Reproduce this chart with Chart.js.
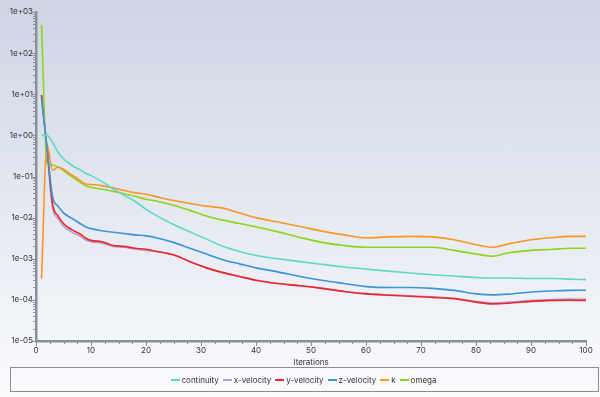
<!DOCTYPE html>
<html lang="en">
<head>
  <meta charset="UTF-8">
  <title>Residuals</title>
  <script src="https://cdn.jsdelivr.net/npm/chart.js"></script>
  <style>
    html, body { margin: 0; padding: 0; }
    body { width: 600px; height: 397px; overflow: hidden; background: linear-gradient(#cdd5e4, #fafbfd); }
    #zone { position: relative; width: 600px; height: 397px; }
    #legende {
      position: absolute; left: 10px; top: 367px; width: 585px; height: 23px;
      border: 1.5px solid #8c8c8c; display: flex; justify-content: center; align-items: center;
      font: 8px Inter, sans-serif; color: #333; padding-left: 2px; box-sizing: content-box;
    }
    #legende .item { display: flex; align-items: center; margin-right: 4px; }
    #legende .trait { width: 9px; height: 2px; margin-right: 2px; }
  </style>
</head>
<body>
  <div id="zone">
    <canvas id="graphique"></canvas>
    <div id="legende"></div>
  </div>

  <script>
    const iterations = [1, 2, 3, 4, 5, 6, 7, 8, 9, 10, 12, 14, 16, 18, 20, 22, 25, 28, 31, 34, 37, 40, 44, 48, 52, 56, 60, 64, 68, 72, 76, 80, 83, 86, 90, 94, 97, 100];

    const continuity = [1.0, 1.0, 0.68, 0.39, 0.27, 0.21, 0.17, 0.145, 0.12, 0.105, 0.075, 0.05, 0.035, 0.025, 0.016, 0.011, 0.0068, 0.0045, 0.003, 0.002, 0.0015, 0.0012, 0.001, 0.00085, 0.00073, 0.00063, 0.00056, 0.0005, 0.00045, 0.00041, 0.00038, 0.00035, 0.00034, 0.00034, 0.00033, 0.00033, 0.00032, 0.00031];
    const xVelocity = [9.0, 0.45, 0.018, 0.0095, 0.0062, 0.0049, 0.0041, 0.0035, 0.0029, 0.0026, 0.0024, 0.002, 0.0019, 0.0017, 0.0016, 0.0015, 0.00124, 0.00085, 0.0006, 0.00046, 0.00037, 0.0003, 0.00025, 0.00022, 0.00019, 0.00016, 0.000142, 0.000133, 0.000126, 0.000118, 0.00011, 0.000092, 0.000084, 0.000088, 0.000097, 0.000102, 0.000104, 0.000103];
    const yVelocity = [9.6, 0.5, 0.022, 0.011, 0.0072, 0.0056, 0.0047, 0.004, 0.0032, 0.0028, 0.0026, 0.0021, 0.002, 0.0018, 0.0017, 0.0015, 0.00125, 0.00085, 0.0006, 0.00046, 0.00037, 0.0003, 0.00025, 0.00022, 0.00019, 0.00016, 0.00014, 0.00013, 0.000123, 0.000115, 0.000107, 0.000088, 0.00008, 0.000083, 0.000092, 0.000097, 0.000098, 0.000097];
    const zVelocity = [8.3, 0.5, 0.033, 0.019, 0.013, 0.0105, 0.0088, 0.0072, 0.006, 0.0054, 0.0048, 0.0044, 0.0041, 0.0038, 0.0036, 0.0032, 0.0025, 0.0018, 0.0013, 0.00095, 0.00075, 0.0006, 0.00048, 0.00037, 0.0003, 0.00025, 0.00021, 0.0002, 0.0002, 0.00019, 0.00017, 0.00014, 0.000132, 0.000138, 0.000155, 0.000165, 0.00017, 0.000172];
    const kResidual = [0.00033, 0.6, 0.14, 0.17, 0.15, 0.12, 0.1, 0.08, 0.066, 0.064, 0.06, 0.053, 0.046, 0.04, 0.037, 0.032, 0.026, 0.022, 0.019, 0.017, 0.013, 0.01, 0.0078, 0.0061, 0.0047, 0.0038, 0.0032, 0.0034, 0.0035, 0.0034, 0.0029, 0.0022, 0.0019, 0.0023, 0.0029, 0.0033, 0.0035, 0.0035];
    const omega = [480, 0.2, 0.19, 0.17, 0.14, 0.11, 0.09, 0.072, 0.06, 0.055, 0.049, 0.044, 0.038, 0.033, 0.028, 0.025, 0.02, 0.015, 0.011, 0.0087, 0.0072, 0.006, 0.0045, 0.0033, 0.0025, 0.0021, 0.0019, 0.0019, 0.0019, 0.0019, 0.0016, 0.0013, 0.00115, 0.0014, 0.0016, 0.0017, 0.0018, 0.0018];

    const seriesNames = ["continuity", "x-velocity", "y-velocity", "z-velocity", "k", "omega"];
    const seriesValues = [continuity, xVelocity, yVelocity, zVelocity, kResidual, omega];
    const seriesColors = ["#5fd8c3", "#aa9fe3", "#f52424", "#3b93dc", "#ff9326", "#8fd41c"];
    const drawOrder = [1, 3, 2, 1, 1, 1];

    const yTickValues = [1e-5, 1e-4, 1e-3, 1e-2, 1e-1, 1e0, 1e1, 1e2, 1e3];
    const yTickLabels = ["1e-05", "1e-04", "1e-03", "1e-02", "1e-01", "1e+00", "1e+01", "1e+02", "1e+03"];
    const xTickLabels = ["0", "10", "20", "30", "40", "50", "60", "70", "80", "90", "100"];

    const police = "Inter";
    const grisAxe = "#8a8f98";

    // legend as plain html under the plot
    const legende = document.getElementById("legende");
    seriesNames.forEach((nom, i) => {
      const item = document.createElement("span");
      item.className = "item";
      item.innerHTML = `<span class="trait" style="background:${seriesColors[i]}"></span>${nom}`;
      legende.appendChild(item);
    });

    // small tick marks on both axes
    const traitsAxes = {
      id: "traitsAxes",
      afterDraw(chart) {
        const ctx = chart.ctx;
        const sx = chart.scales.x, sy = chart.scales.y;
        ctx.save();
        ctx.strokeStyle = grisAxe;
        ctx.lineWidth = 1;
        for (let d = -5; d <= 3; d++) {
          for (let k = 1; k <= 9; k++) {
            const v = k * Math.pow(10, d);
            if (v > 1000) break;
            const py = Math.round(sy.getPixelForValue(v)) + 0.5;
            const len = k === 1 ? 5 : 3;
            ctx.beginPath();
            ctx.moveTo(sx.left - len, py);
            ctx.lineTo(sx.left, py);
            ctx.stroke();
          }
        }
        for (let i = 0; i <= 40; i++) {
          const v = i * 2.5;
          const px = Math.round(sx.getPixelForValue(v)) + 0.5;
          const len = i % 4 === 0 ? 5 : 3;
          ctx.beginPath();
          ctx.moveTo(px, sy.bottom);
          ctx.lineTo(px, sy.bottom + len);
          ctx.stroke();
        }
        ctx.restore();
      }
    };

    const datasets = seriesNames.map((nom, i) => ({
      label: nom,
      data: iterations.map((it, j) => ({ x: it, y: seriesValues[i][j] })),
      borderColor: seriesColors[i],
      backgroundColor: seriesColors[i],
      borderWidth: 1.6,
      pointRadius: 0,
      cubicInterpolationMode: "monotone",
      order: drawOrder[i]
    }));

    new Chart(document.getElementById("graphique"), {
      type: "line",
      data: { datasets: datasets },
      options: {
        responsive: true,
        maintainAspectRatio: false,
        animation: false,
        layout: { padding: { top: 12, right: 14, bottom: 30, left: 0 } },
        plugins: {
          tooltip: { enabled: false },
          legend: { display: false }
        },
        scales: {
          x: {
            type: "linear",
            min: 0,
            max: 100,
            afterBuildTicks: s => { s.ticks = xTickLabels.map(t => ({ value: Number(t) })); },
            afterFit: s => { s.height = 26; },
            grid: { display: false, drawTicks: false },
            border: { display: true, color: grisAxe, width: 2.5 },
            ticks: { color: "#333", padding: 5, maxRotation: 0, font: { family: police, size: 8 }, callback: (v, i) => xTickLabels[i] },
            title: { display: true, text: "Iterations", color: "#333", font: { family: police, size: 8 }, padding: { top: 0, bottom: 0 } }
          },
          y: {
            type: "logarithmic",
            min: 1e-5,
            max: 1e3,
            afterBuildTicks: s => { s.ticks = yTickValues.map(v => ({ value: v })); },
            afterFit: s => { s.width = 36; },
            grid: { display: false, drawTicks: false },
            border: { display: true, color: grisAxe, width: 2.5 },
            ticks: { color: "#333", padding: 3, font: { family: police, size: 8 }, callback: (v, i) => yTickLabels[i] }
          }
        }
      },
      plugins: [traitsAxes]
    });
  </script>
</body>
</html>
